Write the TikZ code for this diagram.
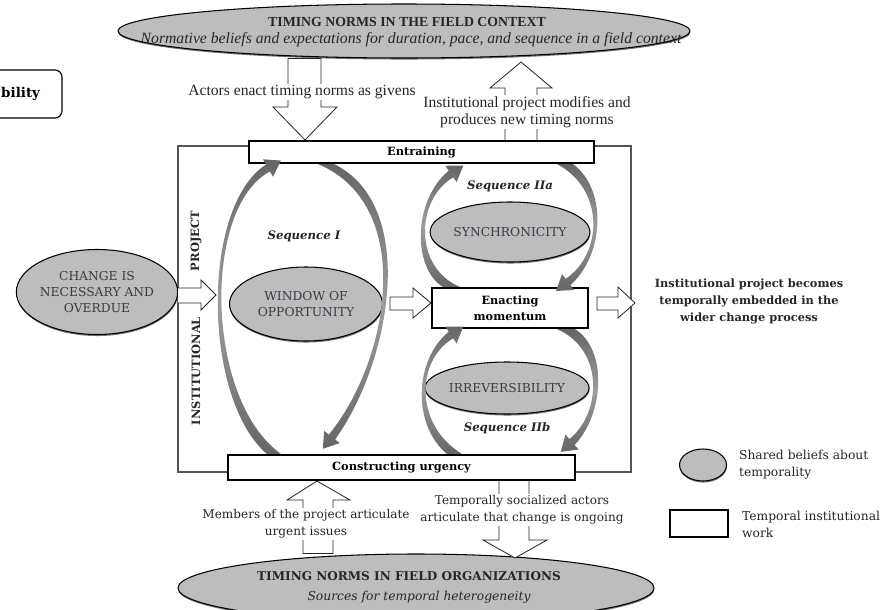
\documentclass[tikz,border=0pt]{standalone}
\usepackage{fontspec}
\newfontfamily\timesface{Liberation Serif}
\newfontfamily\bookface{DejaVu Serif}
\usetikzlibrary{arrows.meta,calc,shapes.geometric,shadows}
\definecolor{beliefgray}{HTML}{BDBDBD}
\definecolor{inkgray}{HTML}{3A3A48}
\definecolor{loopdark}{HTML}{666666}
\definecolor{looplight}{HTML}{9C9C9C}
\definecolor{framegray}{HTML}{555555}
% tapered curved arrow: blunt end (#1 outer, #2 inner), outer controls #3 #4,
% inner controls #5 #6, head base centre #7
\newcommand\bandarrow[7]{%
  \shade[loopshade] (#1) .. controls (#3) and (#4) .. ($(#7)!3.4pt!270:(#4)$)
    -- ($(#7)!8.5pt!270:(#4)$) -- ($(#7)!-12.75pt!(#4)$) -- ($(#7)!8.5pt!90:(#4)$)
    -- ($(#7)!3.4pt!90:(#4)$) .. controls (#6) and (#5) .. (#2) -- cycle;}
\begin{document}
\begin{tikzpicture}[x=0.03cm,y=-0.03cm,
  belief/.style={ellipse,draw=black,line width=0.9pt,fill=beliefgray,text=inkgray,
    inner sep=0pt,align=center,font=\bookface\fontsize{10.5}{14}\selectfont,
    general shadow={fill=black!55,shadow xshift=0.3pt,shadow yshift=-1.3pt}},
  workbox/.style={draw=black,line width=1.8pt,fill=white,inner sep=0pt,align=center,
    font=\bookface\bfseries\fontsize{9.7}{14}\selectfont},
  blockarr/.style={draw=black!85,line width=0.7pt,fill=white,line join=miter},
  loopshade/.style={top color=loopdark,bottom color=loopdark,middle color=looplight},
  lbl/.style={align=center,inner sep=1pt,fill=white,text=black!85},
  seqlbl/.style={font=\bookface\bfseries\itshape\fontsize{10}{13}\selectfont,text=black!85},
]
\clip (0,0) rectangle (887,610);

% box of the preceding panel, cut by the left edge
\node[draw,line width=1pt,rounded corners=6pt,minimum width=3.06cm,minimum height=1.44cm] (prev) at (11,94) {};
\node[anchor=west,inner sep=0pt,font=\bookface\bfseries\fontsize{11.5}{13}\selectfont] at (1,94) {bility};

% frame of the institutional project
\draw[framegray,line width=0.9pt] (178,146) rectangle (631,472);

% shared beliefs
\node[belief,minimum width=17.16cm,minimum height=1.62cm] (fieldctx) at (404,31) {};
\node[belief,minimum width=14.28cm,minimum height=2.04cm] (orgs) at (416,588) {};
\node[belief,minimum width=4.65cm,minimum height=2.55cm] (change) at (97,292) {CHANGE IS\\NECESSARY AND\\OVERDUE};
\node[belief,minimum width=4.59cm,minimum height=2.22cm] (window) at (306,304) {WINDOW OF\\OPPORTUNITY};
\node[belief,minimum width=4.62cm,minimum height=1.8cm] (sync) at (510,232) {SYNCHRONICITY};
\node[belief,minimum width=4.71cm,minimum height=1.56cm] (irrev) at (507,388) {IRREVERSIBILITY};

% texts of the two field ellipses
\node[font=\timesface\bfseries\fontsize{11.8}{13}\selectfont,text=black!85] at ($(fieldctx.center)+(3,-9)$) {TIMING NORMS IN THE FIELD CONTEXT};
\node[font=\timesface\itshape\fontsize{13.4}{14}\selectfont,text=black!85] at ($(fieldctx.center)+(7,9)$) {Normative beliefs and expectations for duration, pace, and sequence in a field context};
\node[font=\bookface\bfseries\fontsize{10.3}{13}\selectfont,text=black!85] at ($(orgs.center)+(-7,-12)$) {TIMING NORMS IN FIELD ORGANIZATIONS};
\node[font=\bookface\itshape\fontsize{10.5}{13}\selectfont,text=black!85] at ($(orgs.center)+(3,9)$) {Sources for temporal heterogeneity};

% temporal institutional work
\node[workbox,minimum width=10.35cm,minimum height=0.66cm] (entr) at (421.5,152) {Entraining};
\node[workbox,minimum width=10.41cm,minimum height=0.75cm] (urg) at (401.5,467.5) {Constructing urgency};
\node[workbox,minimum width=4.68cm,minimum height=1.2cm] (enact) at (510,308) {Enacting\\momentum};

% tapered loops of the sequences
\bandarrow{267,0 |- urg.north}{281,0 |- urg.north}{203,400}{200,207}{205,400}{202,207}{268,168}
\bandarrow{334,0 |- entr.south}{318,0 |- entr.south}{418,205}{392,360}{416,205}{390,360}{332,437}
\bandarrow{443,0 |- enact.north}{460,0 |- enact.north}{412,268}{413,200}{414,268}{415,200}{451,174}
\bandarrow{573,0 |- entr.south}{557,0 |- entr.south}{608,190}{604,255}{606,190}{602,255}{568,282}
\bandarrow{447,0 |- urg.north}{462,0 |- urg.north}{412,425}{414,360}{414,425}{416,360}{451,335}
\bandarrow{575,0 |- enact.south}{557,0 |- enact.south}{608,350}{604,414}{605,350}{601,414}{572,442}

% hollow block arrows
\draw[blockarr] (288,0 |- fieldctx.south) -- (288,107) -- (273,107) -- (305,0 |- entr.north)
  -- (337,107) -- (321,107) -- (321,0 |- fieldctx.south) -- cycle;
\draw[blockarr] (505,0 |- entr.north) -- (505,88) -- (490,88) -- (521,62) -- (552,88)
  -- (537,88) -- (537,0 |- entr.north);
\draw[blockarr] (change.east |- 0,288) -- (201,288) -- (201,280) -- (216,295) -- (201,310)
  -- (201,303) -- (change.east |- 0,303);
\draw[blockarr] (390,297) -- (413,297) -- (413,288) -- (enact.west |- 0,303) -- (413,318)
  -- (413,310) -- (390,310) -- cycle;
\draw[blockarr] (597,297) -- (618,297) -- (618,287) -- (635,303) -- (618,318)
  -- (618,310) -- (597,310) -- cycle;
\draw[blockarr] (303,0 |- orgs.north) -- (303,500) -- (287,500) -- (317,0 |- urg.south)
  -- (350,500) -- (333,500) -- (333,0 |- orgs.north) -- cycle;
\draw[blockarr] (499,0 |- urg.south) -- (499,540) -- (483,540) -- (515,558) -- (547,540)
  -- (529,540) -- (529,0 |- urg.south);

% arrow labels
\node[lbl,font=\timesface\fontsize{13.3}{14.5}\selectfont] at (302,92) {Actors enact timing norms as givens};
\node[lbl,font=\timesface\fontsize{13.3}{14.5}\selectfont] at (527,112) {Institutional project modifies and\\produces new timing norms};
\node[lbl,font=\bookface\fontsize{10.3}{14.5}\selectfont] at (306,524) {Members of the project articulate\\urgent issues};
\node[lbl,font=\bookface\fontsize{10.3}{14.5}\selectfont] at (522,510) {Temporally socialized actors\\articulate that change is ongoing};

% sequence labels
\node[seqlbl] at (304,236) {Sequence I};
\node[seqlbl] at (510,186) {Sequence IIa};
\node[seqlbl] at (507,428) {Sequence IIb};

% vertical label of the frame
\node[rotate=90,font=\bookface\bfseries\fontsize{9.8}{11}\selectfont,text=black!85] at (196,241) {PROJECT};
\node[rotate=90,font=\bookface\bfseries\fontsize{9.8}{11}\selectfont,text=black!85] at (196,371) {INSTITUTIONAL};

% outcome
\node[align=center,font=\bookface\bfseries\fontsize{9.7}{14.5}\selectfont,text=black!85] at (749,301)
  {Institutional project becomes\\temporally embedded in the\\wider change process};

% legend
\node[ellipse,draw=black,line width=0.9pt,fill=beliefgray,minimum width=1.41cm,minimum height=0.96cm,
  general shadow={fill=black!55,shadow xshift=0.3pt,shadow yshift=-1.3pt}] (legbelief) at (703,465) {};
\node[anchor=west,align=left,font=\bookface\fontsize{10.5}{14.5}\selectfont,text=black!85] at (735,465) {Shared beliefs about\\temporality};
\node[draw=black,line width=1.8pt,fill=white,minimum width=1.74cm,minimum height=0.81cm] (legwork) at (699,523.5) {};
\node[anchor=west,align=left,font=\bookface\fontsize{10.5}{14.5}\selectfont,text=black!85] at (738,524) {Temporal institutional\\work};
\end{tikzpicture}
\end{document}
